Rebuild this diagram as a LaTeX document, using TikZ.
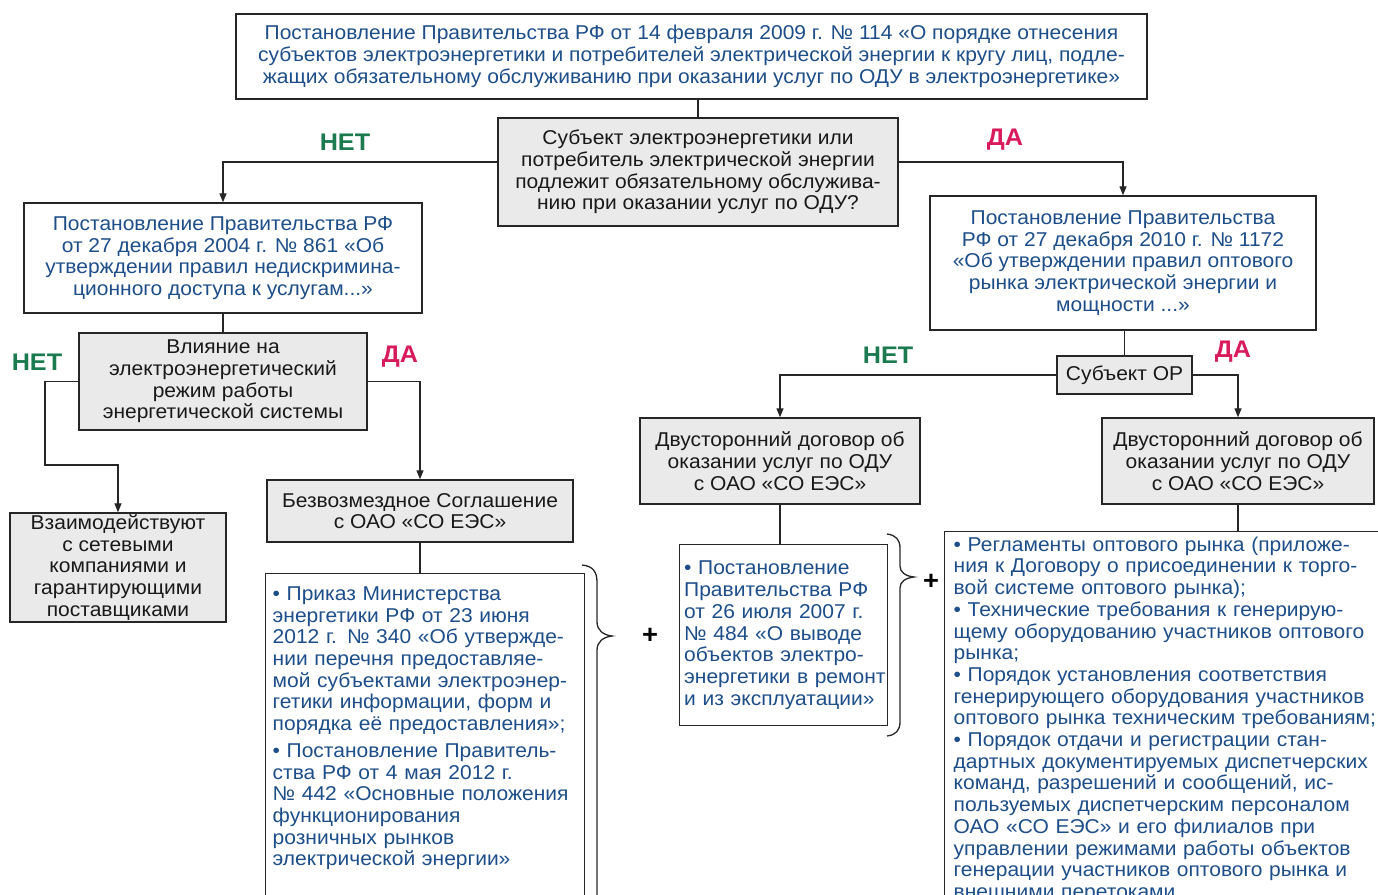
\documentclass[tikz,border=0pt]{standalone}
\usepackage{fontspec}
\setmainfont{Liberation Sans}[FakeStretch=1.05]
\usetikzlibrary{arrows.meta}

\definecolor{docblue}{HTML}{1D4E89}
\definecolor{yesred}{HTML}{D81B5A}
\definecolor{nogreen}{HTML}{1B7A4E}
\definecolor{boxgray}{HTML}{EAEAEA}

\begin{document}
\begin{tikzpicture}[x=1pt, y=-1pt,
    every node/.style={font=\fontsize{20}{21.7}\selectfont},
    doc/.style={draw=black!85, line width=1.4pt, fill=white, text=docblue, align=center, inner sep=0pt},
    ask/.style={draw=black!85, line width=1.4pt, fill=boxgray, text=black!90, align=center, inner sep=0pt},
    link/.style={line width=1.3pt, black!85},
    arr/.style={link, -{Triangle[length=9pt, width=7pt]}},
    yes/.style={text=yesred, font=\fontsize{24}{28}\selectfont\bfseries},
    no/.style={text=nogreen, font=\fontsize{24}{28}\selectfont\bfseries},
    plus/.style={font=\fontsize{26}{26}\selectfont\bfseries}]
  \useasboundingbox (0,0) rectangle (1378,894);

  % upper level
  \node[doc, minimum width=911pt, minimum height=85pt] (top) at (691.5,56.5)
    {Постановление Правительства РФ от 14 февраля 2009 г. № 114 «О порядке отнесения\\
     субъектов электроэнергетики и потребителей электрической энергии к кругу лиц, подле-\\
     жащих обязательному обслуживанию при оказании услуг по ОДУ в электроэнергетике»};
  \node[ask, minimum width=400pt, minimum height=108pt] (quest) at (698,172)
    {Субъект электроэнергетики или\\ потребитель электрической энергии\\
     подлежит обязательному обслужива-\\нию при оказании услуг по ОДУ?};
  \node[doc, minimum width=398pt, minimum height=110pt] (n861) at (223,258)
    {Постановление Правительства РФ\\ от 27 декабря 2004 г. № 861 «Об\\
     утверждении правил недискримина-\\ционного доступа к услугам...»};
  \node[doc, minimum width=386pt, minimum height=134pt] (n1172) at (1123,263)
    {Постановление Правительства\\ РФ от 27 декабря 2010 г. № 1172\\
     «Об утверждении правил оптового\\ рынка электрической энергии и\\ мощности ...»};

  % left branch
  \node[ask, minimum width=288pt, minimum height=97pt] (vlij) at (223,381.5)
    {Влияние на\\ электроэнергетический\\ режим работы\\ энергетической системы};
  \node[ask, minimum width=216pt, minimum height=109pt] (vzaim) at (118,567.5)
    {Взаимодействуют\\ с сетевыми\\ компаниями и\\ гарантирующими\\ поставщиками};
  \node[ask, minimum width=306pt, minimum height=62pt] (bezv) at (420,511)
    {Безвозмездное Соглашение\\ с ОАО «СО ЕЭС»};
  \node[doc, align=left, anchor=north west, text width=305pt, inner xsep=7pt, inner ysep=13pt] (bigL) at (265,573)
    {• Приказ Министерства\\ энергетики РФ от 23 июня\\ 2012 г. № 340 «Об утвержде-\\
     нии перечня предоставляе-\\мой субъектами электроэнер-\\гетики информации, форм и\\
     порядка её предоставления»;\\[5pt]
     • Постановление Правитель-\\ства РФ от 4 мая 2012 г.\\ № 442 «Основные положения\\
     функционирования\\ розничных рынков\\ электрической энергии»\rule[-60pt]{0pt}{0pt}};

  % right branch
  \node[ask, minimum width=135pt, minimum height=38pt] (subOR) at (1124.5,375) {Субъект ОР};
  \node[ask, minimum width=280pt, minimum height=86pt] (dvL) at (780,461)
    {Двусторонний договор об\\ оказании услуг по ОДУ\\ с ОАО «СО ЕЭС»};
  \node[ask, minimum width=272pt, minimum height=86pt] (dvR) at (1238,461)
    {Двусторонний договор об\\ оказании услуг по ОДУ\\ с ОАО «СО ЕЭС»};
  \node[doc, align=left, anchor=north west, text width=199pt, minimum height=181pt, inner xsep=4.5pt, inner ysep=0pt] (n484) at (679,544)
    {• Постановление\\ Правительства РФ\\ от 26 июля 2007 г.\\ № 484 «О выводе\\
     объектов электро-\\\mbox{энергетики в ремонт}\\ и из эксплуатации»};
  \node[doc, align=left, anchor=north west, text width=480pt, inner xsep=9pt, inner ysep=5pt] (bigR) at (944,531)
    {• Регламенты оптового рынка (приложе-\\ния к Договору о присоединении к торго-\\
     вой системе оптового рынка);\\ • Технические требования к генерирую-\\
     щему оборудованию участников оптового\\ рынка;\\
     • Порядок установления соответствия\\ генерирующего оборудования участников\\
     оптового рынка техническим требованиям;\\ • Порядок отдачи и регистрации стан-\\
     дартных документируемых диспетчерских\\ команд, разрешений и сообщений, ис-\\
     пользуемых диспетчерским персоналом\\ ОАО «СО ЕЭС» и его филиалов при\\
     управлении режимами работы объектов\\ генерации участников оптового рынка и\\
     внешними перетоками.\rule[-40pt]{0pt}{0pt}};

  % yes / no labels
  \node[no] (noA) at (345,142) {НЕТ};
  \node[yes] (yesA) at (1005,140) {ДА};
  \node[no] (noB) at (37,362) {НЕТ};
  \node[yes] (yesB) at (400,357) {ДА};
  \node[no] (noC) at (888,355) {НЕТ};
  \node[yes] (yesC) at (1233,352) {ДА};

  % connectors
  \coordinate (turn) at (45,465);
  \draw[link] (quest.north) -- (quest.north |- top.south);
  \draw[arr] ([yshift=10pt]quest.west) -| (n861.north);
  \draw[arr] ([yshift=10pt]quest.east) -| (n1172.north);
  \draw[link] (n861.south) -- (vlij.north);
  \draw[arr] (vlij.west) -| (turn) -| (vzaim.north);
  \draw[arr] (vlij.east) -| (bezv.north);
  \draw[link] (bezv.south) -- (bezv.south |- bigL.north);
  \draw[link] (subOR.north) -- (subOR.north |- n1172.south);
  \draw[arr] (subOR.west) -| (dvL.north);
  \draw[arr] (subOR.east) -| (dvR.north);
  \draw[link] (dvL.south) -- (dvL.south |- n484.north);
  \draw[link] (dvR.south) -- (dvR.south |- bigR.north);

  % braces and pluses
  \draw[link] (582,565) .. controls (593,566) and (597,572) .. (597,582) -- (597,622)
    .. controls (597,630) and (603,635) .. (612,636) .. controls (603,637) and (597,642) .. (597,650) -- (597,910);
  \draw[link] (887,534) .. controls (896,535) and (900,540) .. (900,548) -- (900,566)
    .. controls (900,572) and (905,576) .. (914,577) .. controls (905,578) and (900,582) .. (900,588) -- (900,722)
    .. controls (900,730) and (896,735) .. (887,736);
  \node[plus] (plusA) at (650,636) {+};
  \node[plus] (plusB) at (931,582) {+};
\end{tikzpicture}
\end{document}
